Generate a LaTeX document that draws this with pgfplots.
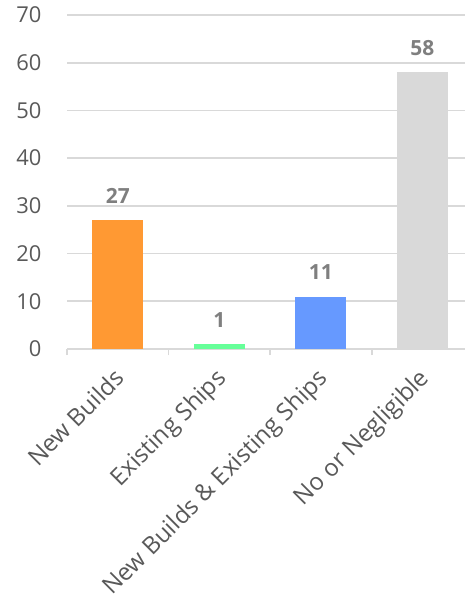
\documentclass[border=0pt]{standalone}
\usepackage{pgfplots}
\pgfplotsset{compat=1.18}
\usepackage{fontspec}
\setmainfont{Open Sans}
\definecolor{cOrange}{HTML}{FF9933}
\definecolor{cGreen}{HTML}{66FF99}
\definecolor{cBlue}{HTML}{6699FF}
\definecolor{cGray}{HTML}{D9D9D9}
\definecolor{cGrid}{HTML}{D9D9D9}
\definecolor{cTick}{HTML}{595959}
\definecolor{cVal}{HTML}{7F7F7F}
\begin{document}
\begin{tikzpicture}[x=1bp,y=1bp]
\useasboundingbox (-67,-253) rectangle (398,349);
\begin{axis}[
  at={(0,0)}, anchor=south west,
  scale only axis, width=398bp, height=334bp,
  xmin=-0.5, xmax=3.42, ymin=0, ymax=70,
  ytick={0,10,...,70},
  axis x line*=bottom, axis y line*=left,
  y axis line style={draw=none},
  x axis line style={draw=cGrid, line width=2bp},
  ytick style={draw=none},
  ymajorgrids, grid style={draw=cGrid, line width=1.8bp},
  xtick={-0.5,0.5,1.5,2.5},
  xticklabels={New Builds, Existing Ships, New Builds \& Existing Ships, No or Negligible},
  xtick style={draw=cGrid, line width=1.8bp},
  tick align=outside, major tick length=6bp,
  xticklabel style={xshift=46bp, yshift=-7bp, rotate=45, anchor=north east, font=\fontsize{24}{28}\selectfont, text=cTick},
  yticklabel style={font=\fontsize{22}{26}\selectfont, text=cTick, xshift=-16bp},
  /pgf/number format/assume math mode=true,
  bar width=0.5, ybar, bar shift=0pt,
  nodes near coords,
  every node near coord/.append style={font=\fontsize{21}{25}\selectfont\bfseries, text=cVal, yshift=13bp},
]
\addplot[fill=cOrange, draw=none] coordinates {(0,27)};
\addplot[fill=cGreen, draw=none] coordinates {(1,1)};
\addplot[fill=cBlue, draw=none] coordinates {(2,11)};
\addplot[fill=cGray, draw=none] coordinates {(3,58)};
\end{axis}
\end{tikzpicture}
\end{document}
